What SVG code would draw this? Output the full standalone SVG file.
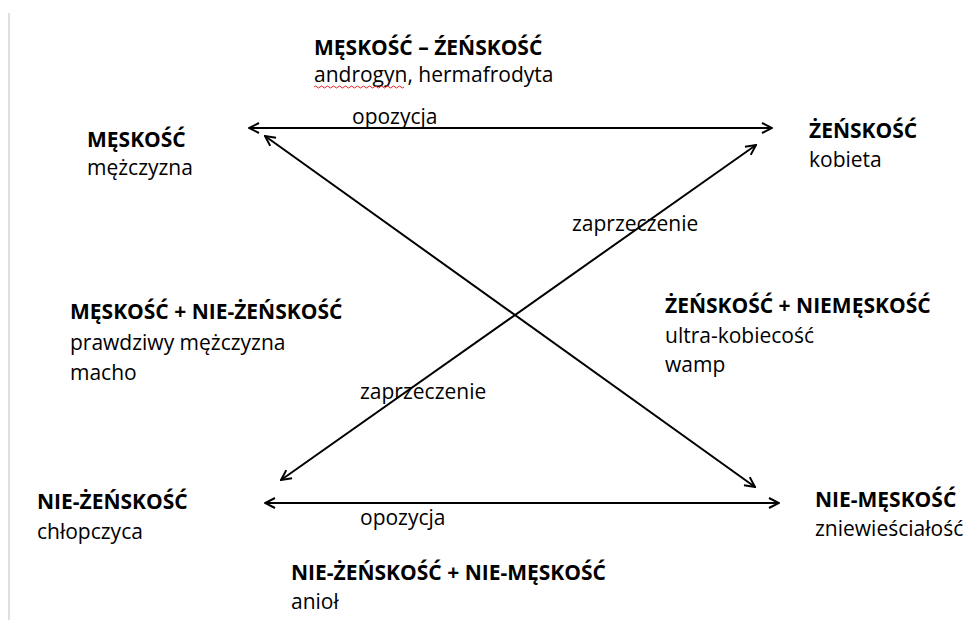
<svg xmlns="http://www.w3.org/2000/svg" width="970" height="628" viewBox="0 0 970 628">
<style>
text{font-family:"Open Sans","Noto Sans","Liberation Sans",sans-serif;font-size:21px;fill:#000}
.b{font-weight:bold}
.c{stroke:#000;stroke-width:2;fill:none}
</style>
<defs>
<marker id="ah" viewBox="0 0 12 12" refX="11" refY="6" markerWidth="12" markerHeight="12" markerUnits="userSpaceOnUse" orient="auto-start-reverse">
<path d="M1,1 L11,6 L1,11" fill="none" stroke="#000" stroke-width="2"/>
</marker>
</defs>
<rect width="970" height="628" fill="#fff"/>
<line x1="9" y1="13" x2="9" y2="620" stroke="#d4d4d4" stroke-width="1.5"/>
<g id="connectors">
<line class="c" x1="249" y1="128" x2="772" y2="128" marker-start="url(#ah)" marker-end="url(#ah)"/>
<line class="c" x1="265" y1="503" x2="779" y2="503" marker-start="url(#ah)" marker-end="url(#ah)"/>
<line class="c" x1="265" y1="136" x2="755" y2="487" marker-start="url(#ah)" marker-end="url(#ah)"/>
<line class="c" x1="756" y1="145" x2="281" y2="480" marker-start="url(#ah)" marker-end="url(#ah)"/>
<text x="352" y="124">opozycja</text>
<text x="572" y="231">zaprzeczenie</text>
<text x="360" y="399">zaprzeczenie</text>
<text x="360" y="525">opozycja</text>
</g>
<g id="n-meskosc-zenskosc">
<text class="b" x="314" y="55">MĘSKOŚĆ – ŹEŃSKOŚĆ</text>
<text x="314" y="82">androgyn, hermafrodyta</text>
<path d="M314,87 q1.5,-2 3,0 t3,0 t3,0 t3,0 t3,0 t3,0 t3,0 t3,0 t3,0 t3,0 t3,0 t3,0 t3,0 t3,0 t3,0 t3,0 t3,0 t3,0 t3,0 t3,0 t3,0 t3,0 t3,0 t3,0 t3,0 t3,0 t3,0 t3,0 t3,0 t3,0" fill="none" stroke="#e02020" stroke-width="1"/>
</g>
<g id="n-meskosc">
<text class="b" x="87" y="147">MĘSKOŚĆ</text>
<text x="87" y="175">mężczyzna</text>
</g>
<g id="n-zenskosc">
<text class="b" x="809" y="138">ŻEŃSKOŚĆ</text>
<text x="809" y="167">kobieta</text>
</g>
<g id="n-meskosc-niezenskosc">
<text class="b" x="70" y="319">MĘSKOŚĆ + NIE-ŻEŃSKOŚĆ</text>
<text x="70" y="350">prawdziwy mężczyzna</text>
<text x="70" y="380">macho</text>
</g>
<g id="n-zenskosc-niemeskosc">
<text class="b" x="665" y="313">ŻEŃSKOŚĆ + NIEMĘSKOŚĆ</text>
<text x="665" y="343">ultra-kobiecość</text>
<text x="665" y="372">wamp</text>
</g>
<g id="n-niezenskosc">
<text class="b" x="37" y="509">NIE-ŻEŃSKOŚĆ</text>
<text x="37" y="539">chłopczyca</text>
</g>
<g id="n-niemeskosc">
<text class="b" x="815" y="507">NIE-MĘSKOŚĆ</text>
<text x="815" y="536">zniewieściałość</text>
</g>
<g id="n-niezenskosc-niemeskosc">
<text class="b" x="291" y="580">NIE-ŻEŃSKOŚĆ + NIE-MĘSKOŚĆ</text>
<text x="291" y="609">anioł</text>
</g>
</svg>
